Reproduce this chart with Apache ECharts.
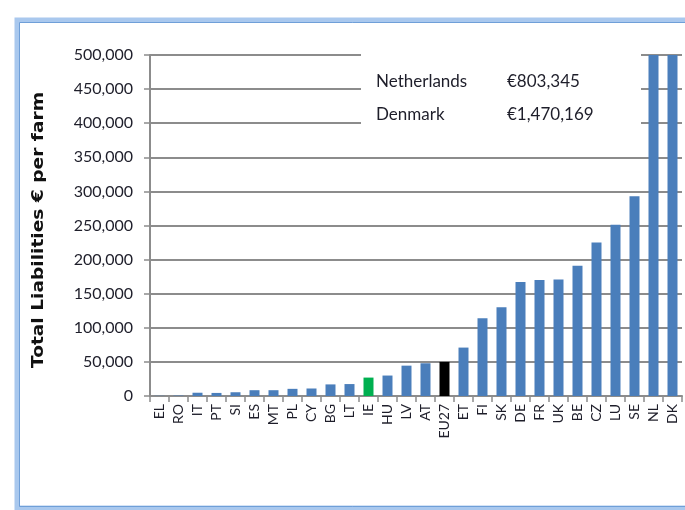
<!DOCTYPE html>
<html>
<head>
<meta charset="utf-8">
<script src="https://cdn.jsdelivr.net/npm/echarts@6/dist/echarts.min.js"></script>
<style>
  html, body { margin: 0; padding: 0; background: #fff; }
  #chart { width: 685px; height: 510px; }
</style>
</head>
<body>
<div id="chart"></div>
<script>
// Member states ordered by average total liabilities per farm
const countries = ['EL','RO','IT','PT','SI','ES','MT','PL','CY','BG','LT','IE','HU','LV','AT','EU27','ET','FI','SK','DE','FR','UK','BE','CZ','LU','SE','NL','DK'];
const liabilities = [300, 600, 4800, 4500, 5500, 8500, 8500, 10500, 11000, 17000, 17500, 27000, 30000, 44500, 48000, 50000, 71000, 114000, 130000, 167000, 170000, 171000, 191000, 225000, 251000, 293000, 803345, 1470169];
const yTicks = [0, 50000, 100000, 150000, 200000, 250000, 300000, 350000, 400000, 450000, 500000];
const yTitle = 'Total Liabilities € per farm';
const notes = [['Netherlands', '€803,345'], ['Denmark', '€1,470,169']];

const barColor = { IE: '#00b050', EU27: '#000000' };

const chart = echarts.init(document.getElementById('chart'));
const font = 'Lato, "Open Sans", sans-serif';

chart.setOption({
  animation: false,
  backgroundColor: '#ffffff',
  grid: { left: 150, right: 3, top: 55, bottom: 114, containLabel: false },
  xAxis: {
    type: 'category',
    data: countries,
    axisLine: { lineStyle: { color: '#8c8c8c', width: 2 } },
    axisTick: { show: true, alignWithLabel: false, length: 6, lineStyle: { color: '#8c8c8c', width: 1.5 } },
    axisLabel: { rotate: 90, interval: 0, color: '#1e1e2a', fontFamily: font, fontSize: 14, margin: 8 }
  },
  yAxis: {
    type: 'value',
    min: yTicks[0],
    max: yTicks[yTicks.length - 1],
    interval: yTicks[1] - yTicks[0],
    axisLine: { show: true, lineStyle: { color: '#8c8c8c', width: 2 } },
    axisTick: { show: true, length: 6, lineStyle: { color: '#8c8c8c', width: 1.5 } },
    axisLabel: {
      color: '#1e1e2a', fontFamily: font, fontSize: 16, margin: 17,
      formatter: v => v.toLocaleString('en-US')
    },
    splitLine: { show: true, lineStyle: { color: '#8c8c8c', width: 2 } }
  },
  series: [{
    type: 'bar',
    barWidth: 10,
    clip: true,
    data: countries.map((c, i) => ({
      value: liabilities[i],
      itemStyle: { color: barColor[c] || '#4a7ebb' }
    }))
  }],
  graphic: [
    // window-style frame around the chart
    {
      type: 'rect', z: 200, silent: true,
      shape: { x: 17, y: 20, width: 720, height: 488 },
      style: { fill: null, stroke: '#a9c8ee', lineWidth: 5 }
    },
    {
      type: 'rect', z: 201, silent: true,
      shape: { x: 19.5, y: 22.5, width: 720, height: 484 },
      style: { fill: null, stroke: '#6f9fd8', lineWidth: 1 }
    },
    // vertical axis title, stretched along its length
    {
      type: 'text', z: 60, silent: true,
      x: 39, y: 230, rotation: Math.PI / 2, scaleX: 1.24,
      style: {
        text: yTitle, font: 'bold 15px "DejaVu Sans", sans-serif', fill: '#111',
        textAlign: 'center', textVerticalAlign: 'middle'
      }
    },
    // text box for the off-scale values
    {
      type: 'rect', z: 50, silent: true,
      shape: { x: 361, y: 44, width: 280, height: 96 },
      style: { fill: '#ffffff' }
    },
    ...notes.flatMap((n, i) => [
      { type: 'text', z: 60, left: 376, top: 73 + i * 33,
        style: { text: n[0], font: '17px ' + font, fill: '#1e1e2a' } },
      { type: 'text', z: 60, left: 507, top: 73 + i * 33,
        style: { text: n[1], font: '17px ' + font, fill: '#1e1e2a' } }
    ])
  ]
});
</script>
</body>
</html>
